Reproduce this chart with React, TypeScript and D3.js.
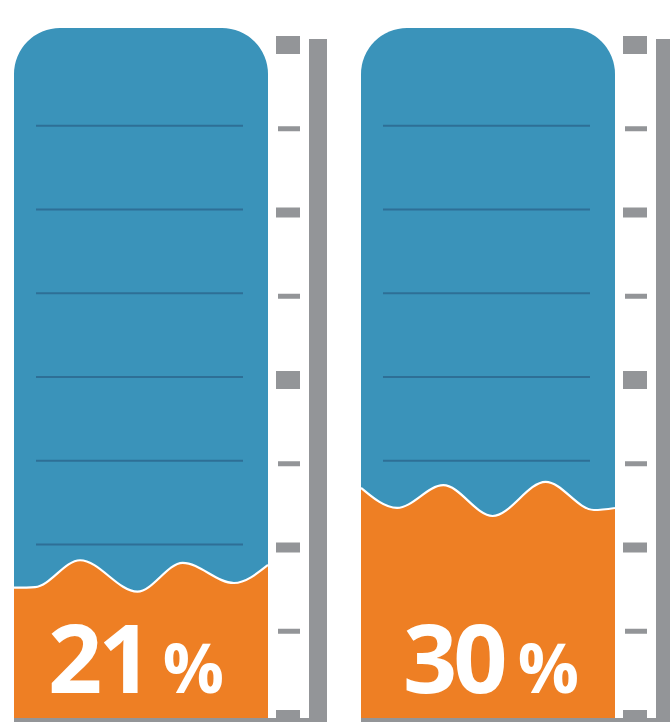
import React from "react";
import * as d3 from "d3";

const categories = ["A", "B"];
const values = [21, 30];
const tickValues = [0, 12.5, 25, 37.5, 50, 62.5, 75, 87.5, 100];
const gridValues = [12.5, 25, 37.5, 50, 62.5, 75, 87.5];
const waveLeftX = [0, 0.083, 0.26, 0.486, 0.664, 0.866, 1];
const waveLeftOffset = [-2.0, -1.9, 2.1, -2.6, 1.7, -1.3, 1.4];
const waveRightX = [0, 0.142, 0.324, 0.518, 0.727, 0.917, 1];
const waveRightOffset = [3.9, 0.9, 4.3, -0.3, 4.8, 0.6, 0.9];
const waveX = [waveLeftX, waveRightX];
const waveOffset = [waveLeftOffset, waveRightOffset];

const W = 670;
const H = 722;
const tubeTop = 28;
const tubeBottom = 718;
const radius = 46;
const BLUE = "#3a93ba";
const ORANGE = "#ee7f24";
const GRAY = "#939598";
const GRID = "#2e6f96";

export default function App() {
  const x = d3.scaleBand<string>().domain(categories).range([14, 615]).paddingInner(0.268).paddingOuter(0);
  const y = d3.scaleLinear().domain([0, 100]).range([715, 45]);
  const bw = x.bandwidth();

  const tubePath = (x0: number) => {
    const x1 = x0 + bw;
    return `M${x0},${tubeBottom} L${x0},${tubeTop + radius} A${radius},${radius} 0 0 1 ${x0 + radius},${tubeTop} L${x1 - radius},${tubeTop} A${radius},${radius} 0 0 1 ${x1},${tubeTop + radius} L${x1},${tubeBottom} Z`;
  };

  const tickSpec = (v: number) => {
    if (v === 50 || v === 100) return { h: 18, x0: 0, w: 24 };
    if (v % 25 === 0) return { h: 10, x0: 0, w: 24 };
    return { h: 5, x0: 2, w: 22 };
  };

  return (
    <svg width={W} height={H} style={{ position: "absolute", left: 0, top: 0 }}>
      <rect width={W} height={H} fill="#ffffff" />
      {categories.map((c, i) => {
        const x0 = x(c)!;
        const x1 = x0 + bw;
        const pts = waveX[i].map((f, k) => [x0 + f * bw, y(values[i] + waveOffset[i][k])] as [number, number]);
        const area = d3.area<[number, number]>().x((d) => d[0]).y0(tubeBottom).y1((d) => d[1]).curve(d3.curveMonotoneX);
        const line = d3.line<[number, number]>().x((d) => d[0]).y((d) => d[1]).curve(d3.curveMonotoneX);
        const clipId = `clip-${i}`;
        const tickX = x1 + 8;
        const barX = x1 + 41;
        return (
          <g key={c}>
            <defs>
              <clipPath id={clipId}>
                <path d={tubePath(x0)} />
              </clipPath>
            </defs>
            <path d={tubePath(x0)} fill={BLUE} />
            <g clipPath={`url(#${clipId})`}>
              {gridValues.map((g) => (
                <line key={g} x1={x0 + 22} x2={x1 - 25} y1={y(g) - 3} y2={y(g) - 3} stroke={GRID} strokeWidth={2} />
              ))}
              <path d={area(pts)!} fill={ORANGE} />
              <path d={line(pts)!} fill="none" stroke="#ffffff" strokeWidth={2.2} />
            </g>
            {tickValues.map((v) => {
              const s = tickSpec(v);
              return <rect key={v} x={tickX + s.x0} y={y(v) - s.h / 2} width={s.w} height={s.h} fill={GRAY} />;
            })}
            <rect x={barX} y={39} width={18} height={H - 39} fill={GRAY} />
            <rect x={x0} y={718} width={barX + 18 - x0} height={4} fill={GRAY} />
            <text
              x={x0 + bw / 2 + (i === 0 ? -5 : 3)}
              y={693}
              textAnchor="middle"
              fill="#ffffff"
              fontFamily="'Open Sans', 'Noto Sans', sans-serif"
              fontWeight={700}
            >
              <tspan fontSize={95} letterSpacing={-4}>{values[i]}</tspan>
              <tspan fontSize={68} dx={14}>%</tspan>
            </text>
          </g>
        );
      })}
    </svg>
  );
}
